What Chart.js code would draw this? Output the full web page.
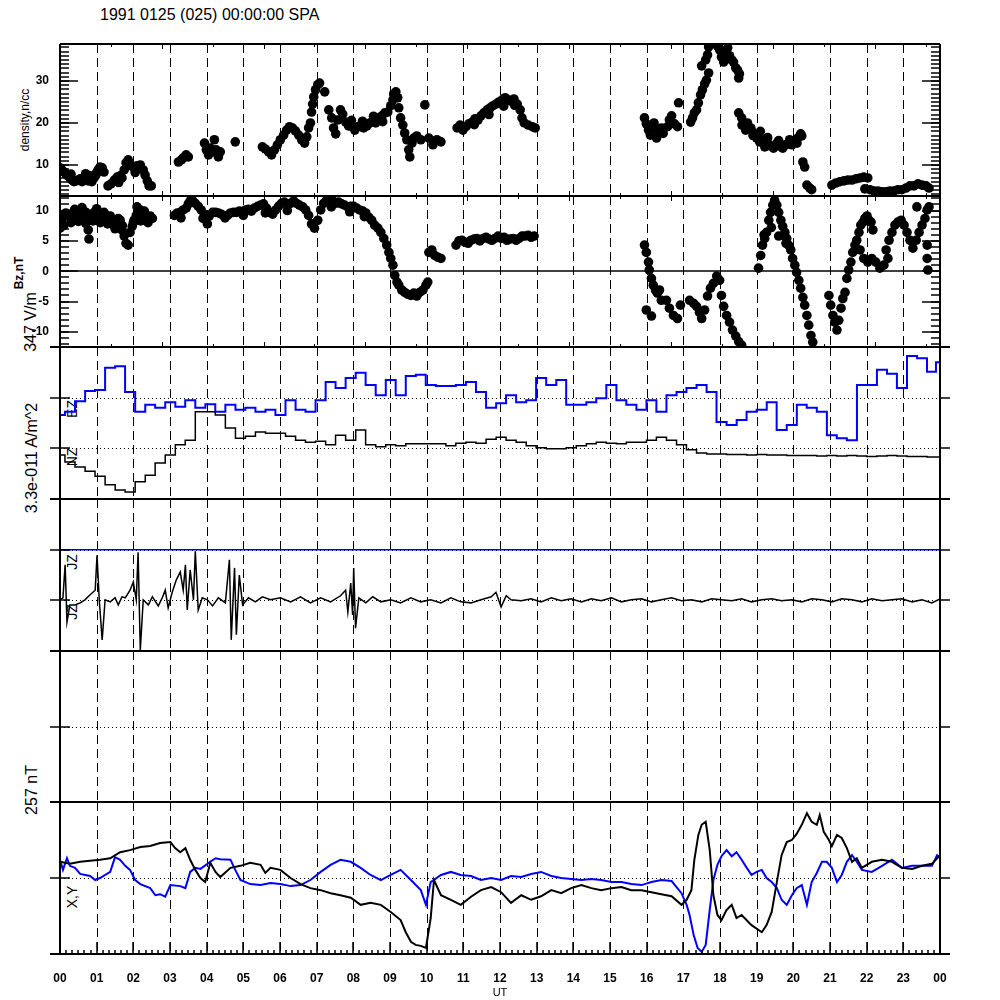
<!DOCTYPE html>
<html>
<head>
<meta charset="utf-8">
<script src="https://cdn.jsdelivr.net/npm/chart.js@4.4.1/dist/chart.umd.min.js"></script>
<style>
  body { margin: 0; background: #fff; width: 1000px; height: 1000px; position: relative; overflow: hidden;
         font-family: "Liberation Sans", Arial, sans-serif; color: #000; }
  canvas { position: absolute; left: 0; }
  .lbl { position: absolute; white-space: nowrap; line-height: 1; }
  .rot { transform: translate(-50%, -50%) rotate(-90deg); }
</style>
</head>
<body>
<div class="lbl" style="left:100px;top:7px;font-size:16px;">1991 0125 (025) 00:00:00 SPA</div>
<div class="lbl rot" style="left:25px;top:120px;font-size:12px;">density,n/cc</div>
<div class="lbl rot" style="left:19px;top:273px;font-size:12px;font-weight:bold;">Bz,nT</div>
<div class="lbl rot" style="left:31px;top:322px;font-size:16px;">347 V/m</div>
<div class="lbl rot" style="left:32px;top:458px;font-size:16px;">3.3e-011 A/m^2</div>
<div class="lbl rot" style="left:32px;top:790px;font-size:16px;">257 nT</div>
<div class="lbl rot" style="left:72px;top:409px;font-size:14px;">EZ</div>
<div class="lbl rot" style="left:72px;top:457px;font-size:14px;">NZ</div>
<div class="lbl rot" style="left:72px;top:562px;font-size:14px;">JZ</div>
<div class="lbl rot" style="left:72px;top:612px;font-size:14px;">JZ</div>
<div class="lbl rot" style="left:72px;top:897px;font-size:14px;">X,Y</div>

<script>
// ---- data (hours UT) ----
const hourTicks = [0,1,2,3,4,5,6,7,8,9,10,11,12,13,14,15,16,17,18,19,20,21,22,23,24];
const hourLabels = ['00','01','02','03','04','05','06','07','08','09','10','11','12',
                    '13','14','15','16','17','18','19','20','21','22','23','00'];
// 5000 s ticks on the plasma panels
const secTicks = [0,1.39,2.78,4.17,5.56,6.94,8.33,9.72,11.11,12.5,13.89,15.28,16.67,18.06,19.44,20.83,22.22,23.61];
const densityTicks = [10, 20, 30];
const bzTicks = [-10, -5, 0, 5, 10];

const densityHours = [
  0,0.05,0.11,0.16,0.22,0.27,0.33,0.38,0.44,0.49,0.55,0.60,0.66,0.71,0.77,0.82,0.87,0.93,0.98,1.04,1.09,1.15,1.20,
  1.31,1.39,1.48,1.56,1.64,1.69,1.75,1.80,1.86,1.94,2.02,2.10,2.19,2.27,2.32,2.38,2.43,2.49,
  3.23,3.31,3.36,3.44,3.50,
  3.94,3.99,4.05,4.10,4.16,4.21,4.26,4.32,4.37,
  4.78,
  5.52,5.60,5.69,5.77,5.85,5.93,6.01,6.10,6.18,6.26,6.34,6.42,6.51,6.59,6.67,6.73,6.78,6.83,6.86,6.89,6.92,6.97,7.03,7.08,7.22,
  7.33,7.41,7.46,7.52,7.57,7.65,7.71,7.79,7.87,7.96,8.04,8.12,8.20,8.28,8.37,8.45,8.53,8.61,8.69,8.78,8.86,8.94,9.02,9.08,
  9.10,9.16,9.21,9.24,9.29,9.35,9.40,9.46,9.51,9.54,9.60,9.65,9.73,9.84,9.95,10.06,10.17,10.28,10.39,
  10.83,10.91,10.99,11.07,11.15,11.24,11.32,11.40,11.48,11.56,11.65,11.73,11.81,11.89,11.97,12.06,12.14,12.22,12.30,12.38,
  12.47,12.55,12.60,12.66,12.77,12.88,12.96,
  15.94,15.99,16.05,16.10,16.18,16.27,16.32,16.40,16.57,16.62,16.68,16.76,16.84,16.87,
  17.20,17.25,17.30,17.36,17.41,17.47,17.52,17.58,17.63,17.69,17.50,17.61,17.66,17.69,
  17.93,17.99,18.04,18.10,18.15,18.21,18.26,18.32,18.37,18.43,18.48,18.53,18.51,
  18.51,18.59,18.64,18.70,18.75,18.84,18.92,19.00,19.08,19.14,19.22,19.30,19.38,19.46,19.55,19.63,19.71,19.79,19.87,19.96,
  20.04,20.12,20.20,20.23,
  20.26,20.31,20.37,20.45,20.50,
  21.05,21.16,21.27,21.38,21.49,21.60,21.71,21.82,21.92,22.03,
  21.95,22.09,22.20,22.31,22.42,22.53,22.63,22.74,22.85,22.96,23.07,23.18,23.29,23.40,23.51,23.62,23.70,
  // lower and upper edges of the thick bands
  0.30,0.70,1.00,1.60,2.05,7.95,8.25,8.55,8.80,11.30,11.70,12.10,12.40,
  18.60,18.90,19.10,19.30,19.60,19.90,20.10,16.20,16.45
];
const densityValues = [
  9.3,8.8,8.3,7.9,7.4,6.9,6.4,6.0,6.2,6.4,6.7,6.0,6.9,6.4,6.2,7.4,6.0,6.9,7.6,8.8,9.5,9.3,8.3,
  5.0,5.5,6.4,7.1,7.4,6.9,8.8,10.5,11.2,9.8,9.3,9.8,10.0,8.8,7.6,6.2,5.0,5.0,
  10.7,11.2,11.7,12.4,11.9,
  15.2,13.6,12.4,14.0,13.1,16.0,13.6,11.9,13.1,
  15.5,
  14.3,13.8,13.1,12.4,13.6,14.8,16.0,17.1,18.3,19.1,18.8,18.1,17.1,16.0,15.2,16.7,18.8,20.0,22.6,24.5,26.2,27.9,29.1,29.5,27.4,
  23.1,21.2,18.8,17.4,20.7,23.1,22.1,20.2,19.3,19.1,18.3,19.1,19.3,18.8,19.3,20.0,20.5,20.0,21.2,21.7,22.4,22.6,24.1,25.5,
  26.9,27.4,26.0,23.6,21.2,19.5,17.6,16.0,13.6,11.9,15.2,16.4,16.9,16.0,24.3,16.4,14.8,16.0,15.5,
  18.8,19.5,18.3,19.1,19.8,20.2,21.0,20.7,21.7,22.4,23.1,23.6,24.1,24.5,25.0,25.5,26.0,25.5,25.2,25.7,
  24.5,23.1,21.2,20.0,19.5,19.1,18.8,
  21.2,19.8,18.3,17.1,18.8,16.4,18.1,18.8,19.1,20.7,21.7,19.8,19.1,24.8,
  20.2,21.2,22.4,23.1,24.8,26.7,27.9,29.3,30.2,31.9,33.6,35.0,36.2,38.1,
  38.3,37.4,35.7,34.5,36.9,37.9,36.0,35.0,34.5,33.1,32.6,31.7,30.7,
  22.4,21.2,19.8,18.3,20.0,18.8,17.6,16.4,15.5,16.0,14.3,15.2,14.5,14.0,15.2,14.5,14.0,14.8,15.2,14.8,
  15.5,16.4,17.4,16.9,
  10.7,9.5,5.2,4.5,4.1,
  5.2,5.7,6.0,6.2,6.4,6.4,6.7,6.9,7.1,6.9,
  4.3,4.1,3.8,3.8,3.6,3.6,3.8,3.8,4.1,4.1,4.5,5.0,5.0,5.5,5.2,5.0,4.5,
  7.8,7.9,8.2,5.8,8.2,20.6,20.4,21.6,20.3,19.6,22.0,24.0,24.2,
  19.5,17.0,18.0,16.5,15.8,16.0,15.2,20.0,17.5
];

const bzHours = [
  0,0.05,0.11,0.16,0.22,0.27,0.33,0.38,0.44,0.49,0.55,0.60,0.66,0.71,0.77,0.79,0.82,0.87,0.93,0.98,1.04,1.09,1.15,1.20,
  1.26,1.31,1.37,1.42,1.48,1.53,1.59,1.64,1.69,1.75,1.80,1.86,1.91,1.97,2.02,2.08,2.13,2.19,2.24,2.30,2.35,2.41,2.46,2.52,
  3.12,3.20,3.28,3.36,3.44,3.50,3.55,3.61,3.69,3.77,3.85,3.94,4.02,4.07,4.16,4.24,4.32,4.40,4.48,4.57,4.65,4.73,4.81,4.89,
  4.98,5.06,5.14,5.22,5.30,5.39,5.47,5.55,5.63,5.71,5.80,5.88,5.96,6.04,6.12,6.21,6.29,6.37,6.45,6.53,6.62,6.70,6.78,6.86,
  6.94,7.03,7.11,7.19,7.27,7.35,7.44,7.52,7.60,7.68,7.76,7.85,7.93,8.01,8.09,8.17,8.26,8.34,8.42,8.50,8.58,8.67,8.75,8.83,
  8.91,8.97,9.02,9.08,9.13,9.19,9.24,9.32,9.40,9.49,9.57,9.65,9.73,9.81,9.90,9.98,10.03,10.06,10.14,10.22,10.31,10.39,
  10.80,10.88,10.96,11.04,11.13,11.21,11.29,11.37,11.45,11.54,11.62,11.70,11.78,11.86,11.95,12.03,12.11,12.19,12.27,12.36,
  12.44,12.52,12.60,12.68,12.77,12.85,12.93,
  15.94,15.99,16.05,16.07,16.13,16.18,16.24,16.29,16.35,16.40,15.99,16.13,16.54,16.62,16.73,16.84,16.92,
  17.17,17.28,17.36,17.44,17.50,17.58,17.66,17.74,17.82,17.91,17.99,18.04,18.10,18.18,18.26,18.34,18.43,18.51,18.59,
  19.05,19.11,19.16,19.22,19.27,19.33,19.38,19.44,19.49,19.55,19.60,19.66,19.71,19.77,19.82,19.87,19.93,19.98,20.04,20.09,
  20.15,20.20,20.26,20.31,20.37,20.42,20.48,20.53,
  20.97,21.02,21.08,21.13,21.19,21.24,21.30,21.35,21.41,
  21.46,21.51,21.57,21.62,21.68,21.73,21.79,21.84,21.90,21.95,22.01,22.06,22.12,22.17,
  21.82,21.92,22.03,22.14,22.25,22.36,22.47,22.58,
  22.53,22.61,22.69,22.77,22.85,22.94,23.02,23.10,23.18,23.26,23.35,23.43,23.51,23.59,23.65,23.70,23.65,23.65,23.67,23.37,
  // lower and upper edges of the thick bands
  0.10,0.30,0.50,0.70,0.90,1.10,1.30,1.50,1.70,2.00,2.20,2.40,0.40,0.60,1.00,2.10,
  3.30,3.90,4.50,5.00,5.60,6.20,7.40,7.90,8.30,19.20,19.40,19.60,19.80
];
const bzValues = [
  7.1,8.4,9.1,9.6,9.2,9.4,9.1,9.7,9.4,9.9,10.1,9.6,9.2,9.7,6.8,5.3,9.1,9.4,9.7,9.2,9.1,9.4,9.1,9.7,
  9.2,8.7,9.1,8.4,7.6,8.1,8.7,8.4,6.8,5.8,4.6,4.3,6.4,7.4,8.4,9.2,9.7,10.1,9.6,9.9,9.2,8.7,9.1,8.7,
  9.2,9.6,9.7,10.1,10.4,11.1,11.6,11.7,11.2,10.7,10.1,9.4,7.8,9.1,9.7,9.7,9.6,9.4,9.1,9.2,9.6,9.7,9.7,9.9,
  9.7,10.1,10.2,9.9,10.4,10.7,10.9,11.1,10.4,9.7,9.4,10.1,10.7,11.2,11.4,10.9,11.2,11.6,11.2,10.9,10.6,10.1,9.2,7.8,
  7.1,8.4,10.1,11.2,11.7,11.9,11.6,11.2,11.4,11.1,10.9,10.6,10.7,10.7,10.4,10.1,9.9,9.6,8.9,8.4,7.6,7.1,6.4,5.4,
  4.3,3.1,2.1,1.0,-0.7,-1.8,-2.3,-3.1,-3.5,-3.8,-4.0,-3.6,-4.1,-3.5,-3.1,-2.3,-1.8,3.1,3.5,2.6,2.3,2.1,
  4.3,5.0,5.1,4.8,4.6,5.1,5.3,5.4,5.0,5.4,5.6,5.3,5.1,5.4,5.8,5.4,5.6,5.1,5.3,5.4,
  5.1,5.4,5.8,5.8,5.9,5.6,5.8,
  4.3,3.1,1.5,0.2,-1.2,-2.3,-3.1,-3.6,-3.1,-4.8,-6.4,-7.4,-4.8,-6.1,-7.3,-7.8,-5.6,
  -4.8,-5.3,-5.8,-6.8,-7.8,-6.4,-4.1,-2.8,-2.0,-0.8,-1.5,-4.0,-5.8,-7.3,-8.4,-9.7,-10.7,-11.6,-12.2,
  0.5,2.6,4.3,5.4,6.4,8.4,9.7,10.9,11.7,10.9,9.7,8.4,7.4,6.4,5.4,4.3,3.5,2.1,1.0,-0.2,
  -1.5,-2.8,-4.3,-5.6,-7.3,-8.9,-10.6,-11.7,
  -4.0,-5.6,-7.3,-8.4,-9.7,-8.1,-6.1,-4.5,-3.5,
  -1.2,0.2,1.5,3.1,4.3,5.1,6.4,7.6,8.1,8.7,9.1,8.4,8.1,6.8,
  3.5,2.1,1.5,2.1,1.5,0.5,1.0,2.1,
  3.5,5.1,6.4,7.6,8.1,8.4,7.6,6.4,5.1,3.8,5.1,6.4,7.6,8.7,10.1,10.6,4.3,2.1,0.2,10.6,
  7.5,8.0,8.2,7.9,8.3,8.0,7.8,7.0,7.5,8.0,8.3,8.0,10.2,10.5,10.3,10.6,
  8.8,8.7,8.8,9.2,9.6,10.0,10.6,9.8,9.0,6.0,7.2,5.8,4.6
];

// current density traces, units of 3.3e-11 A/m^2 offset per trace
const jHours = [
  0,0.27,0.55,0.82,1.09,1.37,1.64,1.91,2.19,2.46,
  2.73,3.01,3.28,3.55,3.83,4.10,4.37,4.65,4.92,5.19,
  5.47,5.74,6.01,6.29,6.56,6.83,7.11,7.38,7.65,7.93,
  8.20,8.47,8.75,9.02,9.29,9.57,9.84,10.11,10.39,10.66,
  10.93,11.21,11.48,11.76,12.03,12.30,12.58,12.85,13.12,13.40,
  13.67,13.94,14.22,14.49,14.76,15.04,15.31,15.58,15.86,16.13,
  16.40,16.68,16.95,17.22,17.50,17.77,18.04,18.32,18.59,18.86,
  19.14,19.41,19.68,19.96,20.23,20.50,20.78,21.05,21.32,21.60,
  21.87,22.14,22.42,22.69,22.96,23.24,23.51,23.78,24.00
];
const jBlueValues = [
  1.66,1.72,1.93,2.13,2.15,2.59,2.62,2.11,1.72,1.86,
  1.80,1.91,1.82,1.95,1.80,1.87,1.72,1.86,1.76,1.80,
  1.72,1.76,1.66,1.95,1.76,1.72,1.95,2.31,2.19,2.39,
  2.49,2.25,2.05,2.35,2.05,2.43,2.45,2.25,2.23,2.23,
  2.25,2.31,2.11,1.80,1.89,2.05,1.91,1.95,2.39,2.25,
  2.35,1.86,1.86,1.91,1.99,2.25,1.95,1.86,1.76,1.95,
  1.72,2.05,2.11,2.19,2.25,2.11,1.52,1.46,1.56,1.72,
  1.76,1.91,1.36,1.46,1.86,1.80,1.72,1.26,1.20,1.16,
  2.25,2.25,2.55,2.47,2.19,2.82,2.78,2.51,2.70
];
const jBlackValues = [
  0.87,0.73,0.63,0.55,0.45,0.28,0.18,0.14,0.34,0.47,
  0.71,0.87,1.07,1.16,1.72,1.72,1.66,1.40,1.20,1.24,
  1.32,1.30,1.30,1.24,1.16,1.12,1.14,1.07,1.26,1.16,
  1.36,1.07,1.03,1.07,1.05,1.09,1.09,1.09,1.09,1.05,
  1.10,1.12,1.10,1.18,1.22,1.16,1.12,1.05,1.01,0.99,
  0.99,1.01,1.05,1.09,1.12,1.10,1.09,1.12,1.12,1.16,
  1.22,1.16,1.07,0.97,0.91,0.89,0.89,0.88,0.88,0.87,
  0.88,0.87,0.87,0.86,0.86,0.86,0.85,0.86,0.85,0.86,
  0.85,0.84,0.85,0.86,0.85,0.84,0.84,0.83,0.83
];

const jzHours = [
  0,0.08,0.14,0.19,0.27,0.41,0.55,0.68,0.82,0.96,
  1.01,1.07,1.15,1.23,1.37,1.50,1.59,1.69,1.78,1.91,
  2.00,2.08,2.13,2.19,2.27,2.41,2.52,2.68,2.79,2.87,
  2.95,3.06,3.17,3.28,3.36,3.42,3.47,3.55,3.64,3.69,
  3.77,3.88,4.02,4.16,4.32,4.51,4.62,4.67,4.76,4.81,
  4.89,4.98,5.14,5.33,5.52,5.74,6.01,6.29,6.56,6.83,
  7.11,7.38,7.65,7.79,7.85,7.93,7.98,8.01,8.06,8.15,
  8.34,8.53,8.75,9.02,9.29,9.57,9.84,10.11,10.39,10.66,
  10.93,11.21,11.48,11.76,11.89,12.03,12.17,12.30,12.58,12.85,
  13.12,13.40,13.67,13.94,14.22,14.49,14.76,15.04,15.31,15.58,
  15.86,16.13,16.40,16.68,16.95,17.22,17.50,17.77,18.04,18.32,
  18.59,18.86,19.14,19.41,19.68,19.96,20.23,20.50,20.78,21.05,
  21.32,21.60,21.87,22.14,22.42,22.69,22.96,23.24,23.51,23.78,
  24
];
const jzValues = [
  1.01,1.05,1.70,0.57,0.91,0.91,0.95,1.01,1.11,1.20,
  1.89,1.01,0.22,1.01,0.97,1.05,0.91,1.07,1.05,1.20,
  1.36,1.01,1.95,0.02,1.01,0.91,1.07,0.89,1.05,1.20,
  0.85,1.16,1.40,1.56,1.20,1.70,0.81,1.60,1.01,1.97,
  0.81,1.05,1.01,0.89,1.05,0.95,1.80,0.22,1.64,0.32,
  1.50,0.91,1.05,0.97,1.07,1.01,1.05,0.97,1.07,0.95,
  1.05,0.97,1.09,1.20,0.77,1.34,0.71,1.64,0.45,1.05,
  0.95,1.07,0.97,1.01,0.95,1.05,0.97,1.01,0.95,1.05,
  0.97,0.95,1.01,1.07,1.16,0.87,1.09,1.01,0.99,1.03,
  0.97,1.05,0.99,1.03,0.97,1.03,0.99,1.05,0.97,1.01,
  1.03,0.97,1.01,1.05,0.99,1.01,0.97,1.03,1.01,0.99,
  1.03,0.97,1.01,1.03,0.99,1.01,0.97,1.03,1.01,0.97,
  1.03,1.01,0.97,1.03,0.99,1.01,1.03,0.97,1.01,0.95,
  1.03
];
const jzBlueHours = [0, 24];
const jzBlueValues = [2, 2];

// magnetometer X (black) and Y (blue), units of 257 nT about the base line
const xHours = [
  0,0.27,0.55,0.82,1.09,1.37,1.64,1.91,2.19,2.46,
  2.73,3.01,3.14,3.28,3.42,3.55,3.69,3.83,3.96,4.10,
  4.24,4.37,4.65,4.92,5.19,5.47,5.60,5.74,6.01,6.29,
  6.56,6.83,7.11,7.38,7.65,7.93,8.20,8.47,8.75,9.02,
  9.29,9.43,9.57,9.70,9.84,9.98,10.11,10.20,10.39,10.66,
  10.93,11.21,11.48,11.76,12.03,12.30,12.58,12.85,13.12,13.40,
  13.67,13.94,14.22,14.49,14.76,15.04,15.31,15.58,15.86,16.13,
  16.40,16.68,16.95,17.09,17.22,17.30,17.41,17.50,17.61,17.72,
  17.82,17.93,18.04,18.18,18.32,18.45,18.59,18.86,19.14,19.27,
  19.41,19.55,19.68,19.82,19.96,20.09,20.23,20.37,20.50,20.64,
  20.72,20.83,20.97,21.05,21.19,21.32,21.46,21.60,21.73,21.87,
  22.14,22.42,22.69,22.96,23.24,23.51,23.78,24
];
const xValues = [
  0.32,0.28,0.32,0.34,0.36,0.39,0.51,0.55,0.61,0.63,
  0.69,0.71,0.59,0.51,0.59,0.36,0.16,0,-0.08,0.30,
  0.12,0.02,0.20,0.24,0.30,0.26,0.10,0.20,0.16,0,
  -0.12,-0.20,-0.24,-0.30,-0.34,-0.39,-0.53,-0.49,-0.53,-0.67,
  -0.83,-1.07,-1.26,-1.32,-1.34,-1.38,-0.79,-0.04,-0.34,-0.43,
  -0.53,-0.37,-0.24,-0.18,-0.28,-0.49,-0.34,-0.43,-0.36,-0.24,
  -0.30,-0.20,-0.14,-0.20,-0.24,-0.20,-0.18,-0.24,-0.24,-0.28,
  -0.32,-0.36,-0.53,-0.43,-0.24,0.36,0.85,1.05,1.11,0.55,
  -0.34,-0.73,-0.83,-0.63,-0.53,-0.79,-0.73,-0.93,-1.07,-0.93,
  -0.67,-0.08,0.45,0.71,0.75,0.87,1.05,1.28,1.11,1.05,
  1.24,0.91,0.75,0.63,0.85,0.79,0.59,0.32,0.39,0.20,
  0.32,0.36,0.32,0.20,0.18,0.24,0.28,0.45
];
const yHours = [
  0,0.08,0.19,0.27,0.41,0.55,0.82,0.96,1.09,1.37,
  1.50,1.64,1.78,1.91,2.05,2.19,2.46,2.60,2.73,2.87,
  3.01,3.28,3.42,3.55,3.69,3.83,4.10,4.24,4.37,4.65,
  4.78,4.92,5.19,5.47,5.74,6.01,6.29,6.56,6.83,7.11,
  7.38,7.65,7.93,8.20,8.47,8.75,9.02,9.29,9.57,9.84,
  9.98,10.11,10.39,10.66,10.93,11.21,11.48,11.76,12.03,12.30,
  12.58,12.85,13.12,13.40,13.67,13.94,14.22,14.49,14.76,15.04,
  15.31,15.58,15.86,16.13,16.40,16.68,16.95,17.09,17.17,17.28,
  17.39,17.50,17.61,17.72,17.82,17.93,18.04,18.18,18.32,18.45,
  18.59,18.73,18.86,19.00,19.14,19.27,19.41,19.55,19.68,19.82,
  19.96,20.09,20.23,20.37,20.50,20.64,20.78,20.91,21.05,21.19,
  21.32,21.46,21.60,21.73,21.87,22.14,22.42,22.69,22.96,23.24,
  23.51,23.78,23.92,24
];
const yValues = [
  0.36,0.16,0.39,0.24,0.20,0.08,0.04,-0.04,0,0.12,
  0.41,0.36,0.24,0.16,-0.04,-0.12,-0.20,-0.34,-0.32,-0.37,
  -0.14,-0.16,-0.20,0.12,0.20,0.18,0.32,0.39,0.37,0.36,
  0.16,-0.04,-0.12,-0.14,-0.10,-0.12,-0.16,-0.14,-0.04,0.12,
  0.26,0.36,0.32,0.20,0.06,-0.04,0.06,0.16,-0.04,-0.24,
  -0.53,-0.08,0.06,0.12,0.06,0.04,-0.04,0,-0.04,0.04,
  0.02,0.08,0.12,0.04,0,-0.02,-0.04,-0.02,-0.04,-0.08,
  -0.08,-0.12,-0.14,-0.08,-0.04,-0.06,-0.30,-0.53,-0.73,-1.12,
  -1.38,-1.46,-1.32,-0.63,-0.04,0.26,0.43,0.55,0.43,0.51,
  0.36,0.20,0.06,0.12,0.16,0,-0.08,-0.20,-0.43,-0.53,
  -0.34,-0.20,-0.14,-0.53,-0.08,0.10,0.32,0.32,0.20,-0.08,
  0.06,0.32,0.45,0.32,0.16,0.12,0.24,0.36,0.20,0.24,
  0.24,0.24,0.45,0.41
];

// ---- drawing ----
const BLUE = '#0000ff';
const FONT = '"Liberation Sans", Arial, sans-serif';
const toXY = (xs, ys) => xs.map((h, i) => ({ x: h, y: ys[i] }));

function seg(ctx, x1, y1, x2, y2) {
  ctx.beginPath();
  ctx.moveTo(x1, y1);
  ctx.lineTo(x2, y2);
  ctx.stroke();
}

// IDL style frame: dashed hour lines, dotted levels, inward ticks
function makeFrame(o) {
  return {
    id: 'frame',
    beforeDatasetsDraw(chart) {
      const { ctx, chartArea: a, scales: { x, y } } = chart;
      ctx.save();
      ctx.strokeStyle = '#000';
      ctx.lineWidth = 1;
      ctx.setLineDash([9, 5]);
      hourTicks.slice(1, -1).forEach((h) => {
        const px = Math.round(x.getPixelForValue(h)) + 0.5;
        seg(ctx, px, a.top, px, a.bottom);
      });
      ctx.setLineDash([1, 3]);
      (o.dotted || []).forEach((v) => {
        const py = Math.round(y.getPixelForValue(v)) + 0.5;
        seg(ctx, a.left, py, a.right, py);
      });
      ctx.setLineDash([]);
      ctx.lineWidth = 1.5;
      (o.solid || []).forEach((v) => {
        const py = Math.round(y.getPixelForValue(v));
        seg(ctx, a.left, py, a.right, py);
      });
      ctx.restore();
    },
    afterDatasetsDraw(chart) {
      const { ctx, chartArea: a, scales: { x, y } } = chart;
      const ext = o.ext ? 10 : 0;
      ctx.save();
      ctx.strokeStyle = '#000';
      ctx.lineWidth = 2;
      seg(ctx, a.left - ext, a.top, a.right + ext, a.top);
      seg(ctx, a.left - ext, a.bottom, a.right + ext, a.bottom);
      seg(ctx, a.left, a.top, a.left, a.bottom);
      seg(ctx, a.right, a.top, a.right, a.bottom);
      ctx.lineWidth = 1.5;
      if (o.yMajor) {
        const draw = (v, len) => {
          const py = Math.round(y.getPixelForValue(v));
          seg(ctx, a.left, py, a.left + len, py);
          seg(ctx, a.right - len, py, a.right, py);
        };
        for (let v = Math.ceil(y.min); v <= y.max; v += 1) draw(v, 9);
        o.yMajor.forEach((v) => draw(v, 18));
      }
      (o.levelTicks || []).forEach((v) => {
        const py = Math.round(y.getPixelForValue(v));
        seg(ctx, a.left - 10, py, a.left + 10, py);
        seg(ctx, a.right, py, a.right + 10, py);
      });
      if (o.secTicks) {
        ctx.lineWidth = 1;
        secTicks.forEach((h, i) => {
          const px = Math.round(x.getPixelForValue(h)) + 0.5;
          const len = i % 2 === 0 ? 5 : 3;
          seg(ctx, px, a.top, px, a.top + len);
          seg(ctx, px, a.bottom - len, px, a.bottom);
        });
      }
      if (o.hourTicks) {
        for (let m = 0; m <= 24 * 60; m += 10) {
          const px = Math.round(x.getPixelForValue(m / 60));
          const len = m % 60 === 0 ? 12 : 4;
          seg(ctx, px, a.bottom - len, px, a.bottom);
        }
      }
      ctx.restore();
    }
  };
}

function makePanel(top, height, datasets, yOpts, frameOpts, bottom) {
  const canvas = document.createElement('canvas');
  canvas.width = 1000;
  canvas.height = height;
  canvas.style.top = top + 'px';
  document.body.appendChild(canvas);

  // tick labels must not push the plot area around
  const yScale = {
    type: 'linear',
    min: yOpts.min,
    max: yOpts.max,
    grid: { display: false },
    border: { display: false },
    afterFit: (s) => { s.width = 60; s.paddingTop = 0; s.paddingBottom = 0; },
    ticks: { display: false }
  };
  if (yOpts.ticks) {
    yScale.afterBuildTicks = (s) => { s.ticks = yOpts.ticks.map((v) => ({ value: v })); };
    yScale.ticks = {
      display: true,
      padding: 3,
      color: '#000',
      font: { family: FONT, size: 12, weight: 'bold' },
      callback: (v) => String(v)
    };
  }

  const xScale = {
    type: 'linear',
    min: 0,
    max: 24,
    display: !!bottom,
    grid: { display: false },
    border: { display: false }
  };
  if (bottom) {
    xScale.afterBuildTicks = (s) => { s.ticks = hourTicks.map((v) => ({ value: v })); };
    xScale.afterFit = (s) => { s.height = 46; s.paddingLeft = 0; s.paddingRight = 0; };
    xScale.ticks = {
      autoSkip: false,
      maxRotation: 0,
      padding: 9,
      color: '#000',
      font: { family: FONT, size: 12, weight: 'bold' },
      callback: (v, i) => hourLabels[i]
    };
    xScale.title = {
      display: true,
      text: 'UT',
      color: '#000',
      font: { family: FONT, size: 11 },
      padding: { top: 2, bottom: 0 }
    };
  }

  return new Chart(canvas, {
    type: 'scatter',
    data: { datasets },
    options: {
      responsive: false,
      animation: false,
      events: [],
      layout: { padding: { left: 0, right: 60, top: 10, bottom: bottom ? 0 : 10 } },
      scales: { x: xScale, y: yScale },
      plugins: { legend: { display: false }, tooltip: { enabled: false } }
    },
    plugins: [makeFrame(frameOpts)]
  });
}

function dots(xs, ys) {
  return {
    data: toXY(xs, ys),
    pointRadius: 4.8,
    pointBackgroundColor: '#000',
    pointBorderWidth: 0,
    showLine: false,
    clip: 0
  };
}
function trace(xs, ys, color, width, stepped) {
  return {
    data: toXY(xs, ys),
    showLine: true,
    borderColor: color,
    borderWidth: width,
    pointRadius: 0,
    stepped: stepped || false,
    tension: 0,
    clip: 0
  };
}

makePanel(34, 172, [dots(densityHours, densityValues)],
  { min: 2.6, max: 38.8, ticks: densityTicks },
  { yMajor: densityTicks, secTicks: true });

makePanel(186, 171, [dots(bzHours, bzValues)],
  { min: -12.5, max: 12.4, ticks: bzTicks },
  { yMajor: bzTicks, secTicks: true, solid: [0] });

makePanel(337, 172, [
    trace(jHours, jBlackValues, '#000', 1.5, 'middle'),
    trace(jHours, jBlueValues, BLUE, 2, 'middle')
  ],
  { min: 0, max: 3 },
  { dotted: [1, 2], levelTicks: [1, 2], ext: true });

makePanel(489, 172, [
    trace(jzBlueHours, jzBlueValues, BLUE, 1.5),
    trace(jzHours, jzValues, '#000', 1.5)
  ],
  { min: 0, max: 3 },
  { dotted: [1, 2], levelTicks: [1, 2], ext: true });

makePanel(641, 171, [],
  { min: -1.5, max: 1.5 },
  { dotted: [0], levelTicks: [0], ext: true });

makePanel(792, 208, [
    trace(xHours, xValues, '#000', 2),
    trace(yHours, yValues, BLUE, 2)
  ],
  { min: -1.5, max: 1.5 },
  { dotted: [0], levelTicks: [0], ext: true, hourTicks: true }, true);
</script>
</body>
</html>
